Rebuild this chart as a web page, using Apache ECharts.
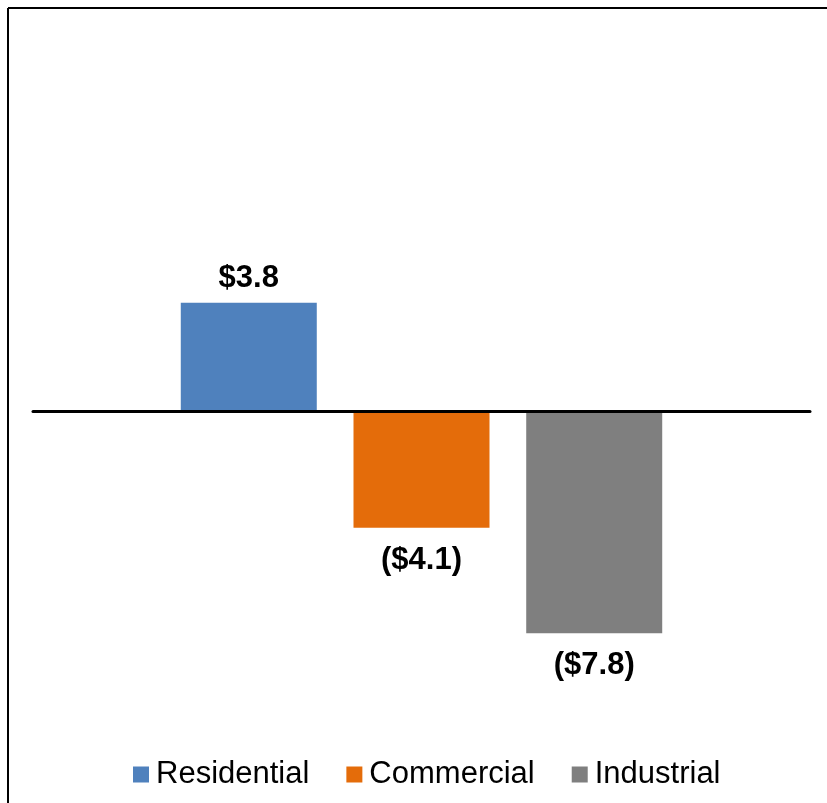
<!DOCTYPE html>
<html>
<head>
<meta charset="utf-8">
<script src="https://cdn.jsdelivr.net/npm/echarts@6/dist/echarts.min.js"></script>
<style>
html,body{margin:0;padding:0;background:#fff;}
#chart{width:827px;height:803px;}
</style>
</head>
<body>
<div id="chart"></div>
<script>
const categories = [''];
const seriesNames = ['Residential', 'Commercial', 'Industrial'];
const seriesValues = [3.8, -4.1, -7.8];
const seriesColors = ['#4F81BD', '#E46C0A', '#7F7F7F'];

function fmt(v) {
  return v < 0 ? '($' + Math.abs(v).toFixed(1) + ')' : '$' + v.toFixed(1);
}

const chart = echarts.init(document.getElementById('chart'), null, {renderer: 'canvas'});
const series = seriesNames.map((name, i) => ({
  name: name,
  type: 'bar',
  data: [seriesValues[i]],
  barWidth: 136,
  barGap: '27%',
  itemStyle: {color: seriesColors[i]},
  label: {
    show: true,
    position: seriesValues[i] < 0 ? 'bottom' : 'top',
    distance: seriesValues[i] < 0 ? 17 : 9,
    formatter: p => fmt(p.value),
    fontFamily: 'Liberation Sans, Arial, sans-serif',
    fontWeight: 'bold',
    fontSize: 31,
    color: '#000'
  }
}));

chart.setOption({
  backgroundColor: '#fff',
  animation: false,
  grid: {left: 33, right: 17, top: 126, bottom: 107},
  xAxis: {
    type: 'category',
    data: categories,
    z: 10,
    axisLine: {show: true, onZero: true, lineStyle: {color: '#000', width: 3}},
    axisTick: {show: false},
    axisLabel: {show: false},
    splitLine: {show: false}
  },
  yAxis: {
    type: 'value',
    min: -10,
    max: 10,
    show: false,
    splitLine: {show: false}
  },
  legend: {
    left: 128,
    top: 754,
    itemWidth: 16,
    itemHeight: 16,
    itemGap: 37,
    icon: 'rect',
    textStyle: {
      fontFamily: 'Liberation Sans, Arial, sans-serif',
      fontSize: 31,
      color: '#000',
      padding: [0, 0, 0, 2]
    },
    data: seriesNames
  },
  graphic: [
    {type: 'line', shape: {x1: 8, y1: 8, x2: 827, y2: 8}, style: {stroke: '#000', lineWidth: 2}},
    {type: 'line', shape: {x1: 8, y1: 8, x2: 8, y2: 803}, style: {stroke: '#000', lineWidth: 2}}
  ],
  series: series
});
</script>
</body>
</html>
